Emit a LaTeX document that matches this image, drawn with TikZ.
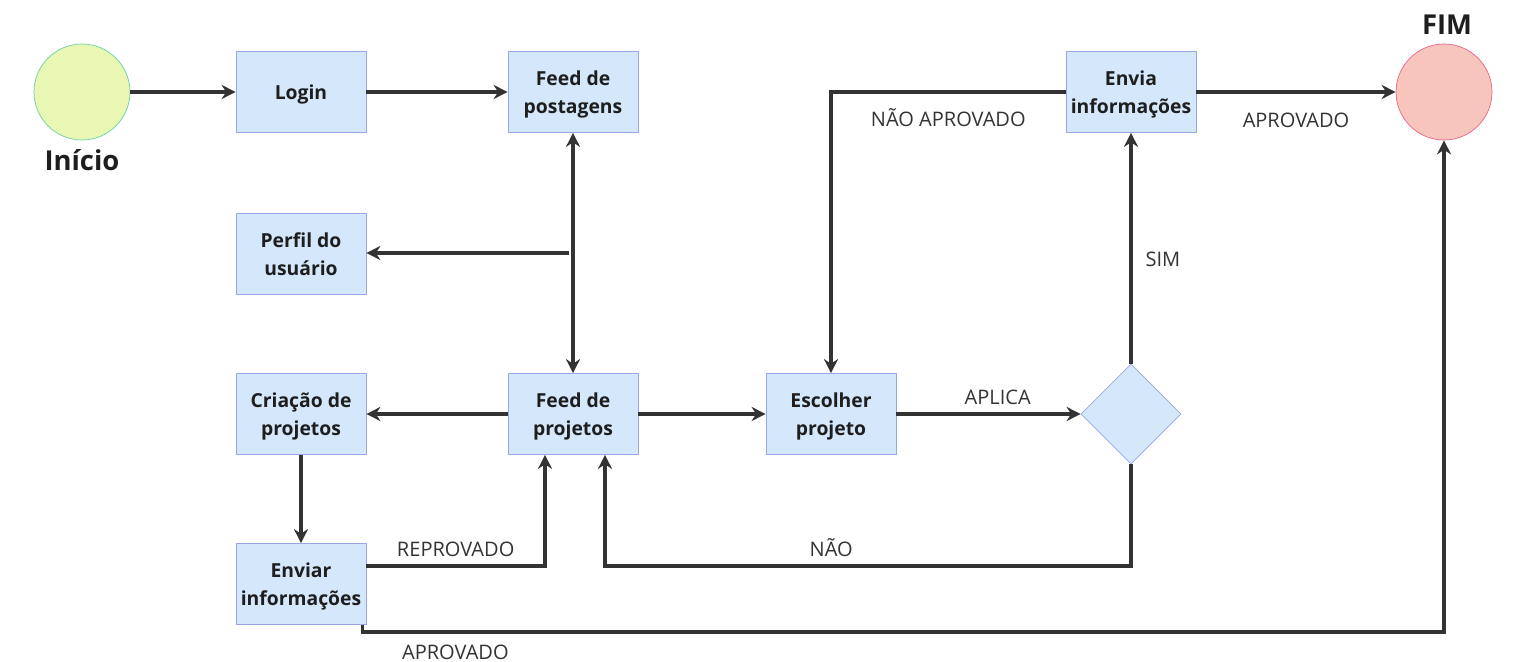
\documentclass[tikz,border=0pt]{standalone}
\usepackage{fontspec}
\setmainfont{Open Sans}
\usetikzlibrary{arrows.meta,positioning,calc,shapes.geometric}
\definecolor{boxfill}{HTML}{D5E8FB}
\definecolor{boxline}{HTML}{9AA6E6}
\definecolor{startfill}{HTML}{EAF6B4}
\definecolor{startline}{HTML}{6CCFA6}
\definecolor{endfill}{HTML}{F8C5BC}
\definecolor{endline}{HTML}{E8638E}
\definecolor{flowline}{HTML}{333333}
\definecolor{txt}{HTML}{1E1E1E}

\begin{document}
\begin{tikzpicture}[x=0.02cm,y=-0.02cm,>={Stealth[length=8pt,width=8pt]},
 font=\fontsize{10}{16}\selectfont,text=txt,
 box/.style={draw=boxline,fill=boxfill,align=center,minimum width=2.6cm,minimum height=1.62cm,inner sep=0pt,text depth=0pt,font=\fontsize{11}{16}\selectfont\bfseries},
 decision/.style={diamond,draw=boxline,fill=boxfill,minimum width=2cm,minimum height=2cm,inner sep=0pt},
 terminal/.style={circle,minimum size=1.92cm,inner sep=0pt},
 flow/.style={->,draw=flowline,line width=2pt},
 lbl/.style={font=\fontsize{11.4}{13}\selectfont,text=flowline}]
\useasboundingbox (0,0) rectangle (1539,662);
% nos
\node[terminal,draw=startline,fill=startfill] (inicio) at (82,92) {};
\node[font=\fontsize{15.6}{18}\selectfont\bfseries] (inicio-lbl) at (82,160) {Início};
\node[box] (login) at (301,92) {Login};
\node[box] (feedpost) at (573,92) {Feed de\\postagens};
\node[box] (perfil) at (301,254) {Perfil do\\usuário};
\node[box] (criacao) at (301,414) {Criação de\\projetos};
\node[box] (feedproj) at (573,414) {Feed de\\projetos};
\node[box] (escolher) at (831,414) {Escolher\\projeto};
\node[decision] (decisao) at (1131,414) {};
\node[box] (envia) at (1131,92) {Envia\\informações};
\node[box] (enviar) at (301,584) {Enviar\\informações};
\node[terminal,draw=endline,fill=endfill] (fim) at (1444,92) {};
\node[font=\fontsize{15.6}{18}\selectfont\bfseries] (fim-lbl) at (1447,25) {FIM};
\coordinate (split) at (569,253);
\coordinate (nao) at (605,566);
% conexoes
\draw[flow] (inicio) -- (login);
\draw[flow] (login) -- (feedpost);
\draw[flow,<->] (feedpost) -- (feedproj);
\draw[flow] (split) -- (split -| perfil.east);
\draw[flow] (feedproj) -- (criacao);
\draw[flow] (feedproj) -- (escolher);
\draw[flow] (escolher) -- node[lbl,above=1pt,pos=0.55] {APLICA} (decisao);
\draw[flow] (decisao) -- node[lbl,right=4pt,pos=0.45] {SIM} (envia);
\draw[flow] (decisao.south) |- node[lbl,above=1pt,pos=0.785] {NÃO} (nao) -- (nao |- feedproj.south);
\draw[flow] (criacao) -- (enviar);
\draw[flow] ([yshift=0.36cm]enviar.east) -| node[lbl,above=1pt,pos=0.25] {REPROVADO} ([xshift=-0.56cm]feedproj.south);
\draw[flow] ([xshift=-0.08cm]enviar.south east) -- ++(0,7) -| node[lbl,below=3pt,pos=0.043] {APROVADO} (fim.south);
\draw[flow] (envia) -- node[lbl,below=7.5pt] {APROVADO} (fim);
\draw[flow] (envia.west) -| node[lbl,below=5pt,pos=0.25] {NÃO APROVADO} (escolher.north);
\end{tikzpicture}
\end{document}
